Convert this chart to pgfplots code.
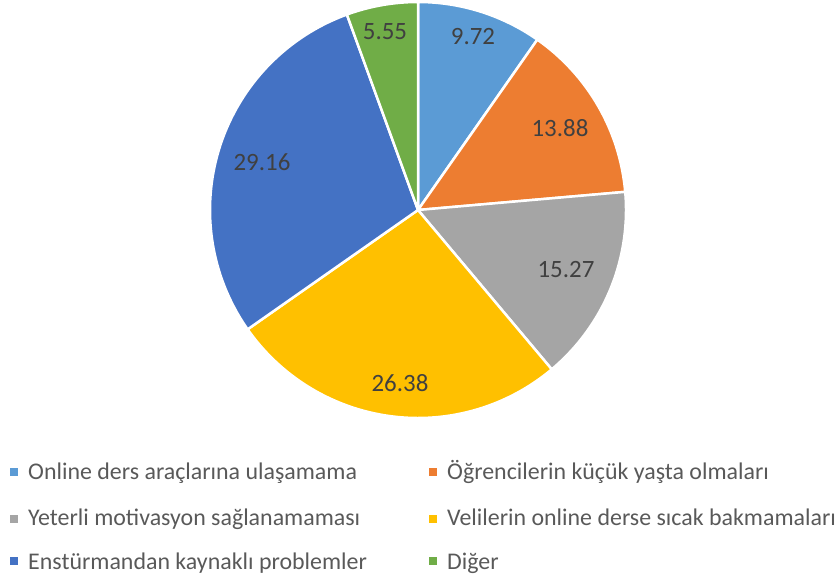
\documentclass[border=0pt]{standalone}
\usepackage{pgfplots}
\usepackage{pgfplotstable}
\pgfplotsset{compat=1.18}
\usepackage{fontspec}
\setmainfont{Carlito}
\definecolor{pc0}{HTML}{5B9BD5}
\definecolor{pc1}{HTML}{ED7D31}
\definecolor{pc2}{HTML}{A5A5A5}
\definecolor{pc3}{HTML}{FFC000}
\definecolor{pc4}{HTML}{4472C4}
\definecolor{pc5}{HTML}{70AD47}
\definecolor{lab}{HTML}{404040}
\definecolor{leg}{HTML}{595959}
\newcommand\labfont{\fontsize{25}{29}\selectfont}
\newcommand\legfont{\fontsize{24}{28}\selectfont}
\pgfplotstableread{
val lx ly
9.72 473 37
13.88 560 128
15.27 566 270
26.38 400 383
29.16 262 162
5.55 385 32
}\piedata
\begin{document}
\begin{tikzpicture}
\useasboundingbox (0,0) rectangle (839bp,577bp);
\begin{axis}[at={(0,0)}, anchor=south west, scale only axis,
  width=839bp, height=577bp, xmin=0, xmax=839, ymin=0, ymax=577,
  y dir=reverse, hide axis, clip=false]
\pgfmathsetmacro\total{99.96}
\xdef\startang{90}
\pgfplotsforeachungrouped \i in {0,...,5}{%
  \pgfplotstablegetelem{\i}{val}\of\piedata \let\pv\pgfplotsretval
  \pgfmathsetmacro\endang{\startang - \pv/\total*360}%
  \edef\temp{\noexpand\fill[pc\i, draw=white, line width=2.5pt, line join=round]
    (axis cs:418,210) -- ++(\startang:208bp) arc[start angle=\startang, end angle=\endang, radius=208bp] -- cycle;}%
  \temp
  \xdef\startang{\endang}%
}
\pgfplotsforeachungrouped \i in {0,...,5}{%
  \pgfplotstablegetelem{\i}{val}\of\piedata \let\pv\pgfplotsretval
  \pgfplotstablegetelem{\i}{lx}\of\piedata \let\plx\pgfplotsretval
  \pgfplotstablegetelem{\i}{ly}\of\piedata \let\ply\pgfplotsretval
  \edef\temp{\noexpand\node[text=lab, font=\noexpand\labfont, inner sep=0pt] at (axis cs:\plx,\ply) {\pv};}%
  \temp
}
% legend
\fill[pc0] (axis cs:10,468) rectangle (axis cs:18,476);
\node[anchor=base west, inner sep=0pt, text=leg, font=\legfont] at (axis cs:28,479) {Online ders araçlarına ulaşamama};
\fill[pc1] (axis cs:429,468) rectangle (axis cs:437,476);
\node[anchor=base west, inner sep=0pt, text=leg, font=\legfont] at (axis cs:447,479) {Öğrencilerin küçük yaşta olmaları};
\fill[pc2] (axis cs:10,515) rectangle (axis cs:18,523);
\node[anchor=base west, inner sep=0pt, text=leg, font=\legfont] at (axis cs:28,525) {Yeterli motivasyon sağlanamaması};
\fill[pc3] (axis cs:429,515) rectangle (axis cs:437,523);
\node[anchor=base west, inner sep=0pt, text=leg, font=\legfont] at (axis cs:447,525) {Velilerin online derse sıcak bakmamaları};
\fill[pc4] (axis cs:10,557) rectangle (axis cs:18,565);
\node[anchor=base west, inner sep=0pt, text=leg, font=\legfont] at (axis cs:28,569) {Enstürmandan kaynaklı problemler};
\fill[pc5] (axis cs:429,557) rectangle (axis cs:437,565);
\node[anchor=base west, inner sep=0pt, text=leg, font=\legfont] at (axis cs:447,569) {Diğer};
\end{axis}
\end{tikzpicture}
\end{document}
